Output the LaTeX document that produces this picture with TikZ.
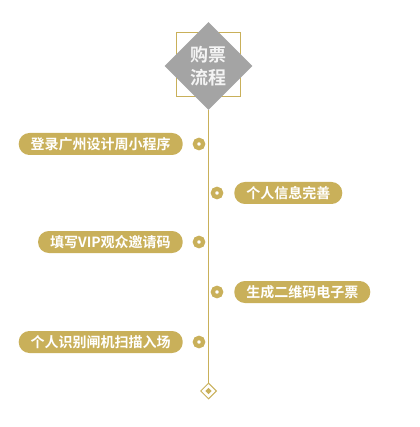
\documentclass[tikz,border=0pt]{standalone}
\usepackage{fontspec}
\usetikzlibrary{shapes.geometric}
\newfontfamily\cjk{Noto Sans CJK SC}[BoldFont={Noto Sans CJK SC Bold}]
\definecolor{gold}{HTML}{C9B05A}
\definecolor{greyd}{HTML}{A4A4A4}
\definecolor{paper}{HTML}{F4F4F4}
\newcommand{\pilltext}{\fontsize{10.5}{12}\selectfont}
\newcommand{\headtext}{\fontsize{13.5}{17.25}\selectfont\bfseries}
\tikzset{
  pill/.style={fill=gold,text=white,rounded corners=8pt,minimum height=16.5pt,inner xsep=9pt,inner ysep=0pt,font=\cjk\pilltext\bfseries},
  ring/.style={circle,draw=gold,fill=white,line width=3.2pt,minimum size=6.2pt,inner sep=0pt}
}

\begin{document}
\begin{tikzpicture}[x=0.75pt,y=-0.75pt,font=\cjk\pilltext]
\useasboundingbox (0,0) rectangle (419,427);
% head
\node[draw=gold,line width=0.75pt,minimum size=47.5pt,inner sep=0] (box) at (208.5,64.5) {};
\node[diamond,fill=greyd,minimum width=66pt,minimum height=66pt,inner sep=0,text=paper,font=\cjk\headtext,align=center] (head) at (208.5,66) {购票\\流程};
% end
\node[diamond,draw=gold,fill=white,line width=0.75pt,minimum size=12pt,inner sep=0] (end) at (208.5,391) {};
\node[diamond,fill=gold,minimum size=5pt,inner sep=0] (endin) at (end.center) {};
\draw[gold,line width=0.75pt] (head.south) -- (end.north);
% steps
\node[ring] (d1) at (199,144) {};
\node[pill,anchor=east] (s1) at (183,144) {登录广州设计周小程序};
\node[ring] (d2) at (217,193) {};
\node[pill,anchor=west] (s2) at (234,193) {个人信息完善};
\node[ring] (d3) at (199,242) {};
\node[pill,anchor=east] (s3) at (183,242) {填写VIP观众邀请码};
\node[ring] (d4) at (217,292) {};
\node[pill,anchor=west] (s4) at (234,292) {生成二维码电子票};
\node[ring] (d5) at (199,342) {};
\node[pill,anchor=east] (s5) at (183,342) {个人识别闸机扫描入场};
\end{tikzpicture}
\end{document}
